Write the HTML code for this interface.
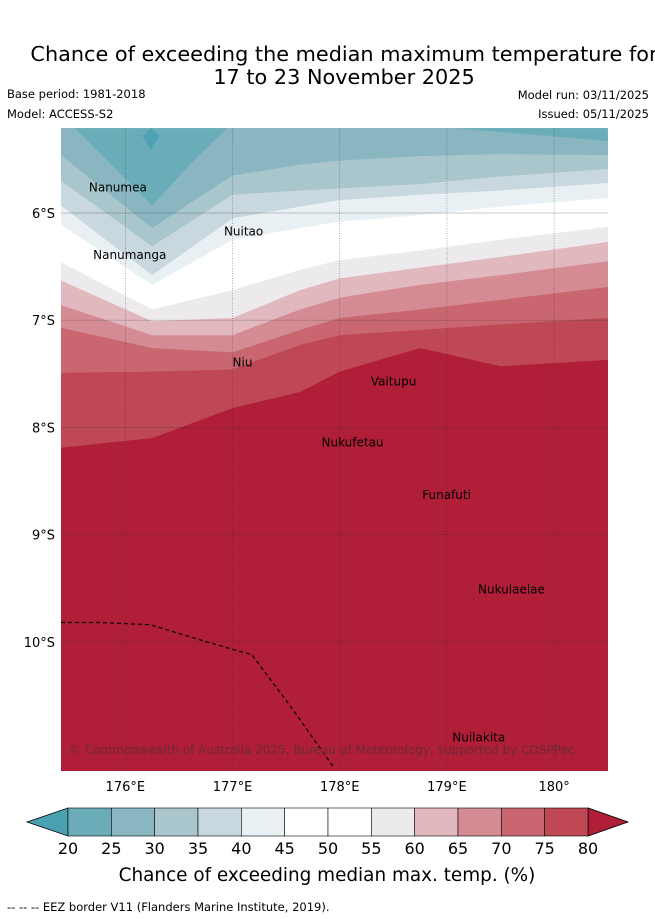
<!DOCTYPE html>
<html><head><meta charset="utf-8">
<style>
body{margin:0;background:#fff;width:655px;height:919px;overflow:hidden;font-family:"DejaVu Sans","Liberation Sans",sans-serif;}
svg{position:absolute;left:0;top:0}
</style></head>
<body>
<svg id="root" width="655" height="919" xmlns="http://www.w3.org/2000/svg">
<text x="344" y="61" font-size="20.8" text-anchor="middle" fill="#000">Chance of exceeding the median maximum temperature for</text>
<text x="344" y="84" font-size="20.8" text-anchor="middle" fill="#000">17 to 23 November 2025</text>
<text x="7" y="98" font-size="11.5">Base period: 1981-2018</text>
<text x="7" y="118" font-size="11.5">Model: ACCESS-S2</text>
<text x="649" y="99" font-size="11.5" text-anchor="end">Model run: 03/11/2025</text>
<text x="649" y="118" font-size="11.5" text-anchor="end">Issued: 05/11/2025</text>
<g id="map"></g>
<g id="cbar"></g>
<text x="327" y="881" font-size="18.4" text-anchor="middle">Chance of exceeding median max. temp. (%)</text>
<text x="7" y="911" font-size="11.5">--  --  -- EEZ border V11 (Flanders Marine Institute, 2019).</text>
</svg>
<script>
// ---- data ----
const lonCols = [175.40,176.25,177.00,177.63,178.00,178.75,179.50,180.50];
const levels = [30,35,40,45,50,55,60,65,70,75,80];
const boundaryLats = [
 [5.46,6.14,5.65,5.55,5.51,5.47,5.45,5.46],
 [5.70,6.31,5.83,5.79,5.77,5.73,5.66,5.59],
 [5.93,6.58,6.05,5.94,5.88,5.83,5.79,5.72],
 [6.11,6.67,6.25,6.14,6.08,6.02,5.94,5.86],
 [6.28,6.79,6.46,6.35,6.25,6.16,6.08,5.99],
 [6.46,6.90,6.72,6.53,6.44,6.35,6.25,6.13],
 [6.63,7.01,6.98,6.72,6.61,6.51,6.41,6.27],
 [6.86,7.14,7.14,6.90,6.79,6.67,6.58,6.45],
 [7.07,7.26,7.30,7.09,6.98,6.90,6.81,6.69],
 [7.49,7.48,7.46,7.23,7.14,7.09,7.04,6.98],
 [8.19,8.10,7.82,7.67,7.48,7.26,7.43,7.37]
];
const bandColors = ["#8ab6c2","#a8c6cc","#c8d8de","#e9f0f3","#ffffff","#ffffff","#eceaec","#e0b8be","#d48b93","#c96670","#be4854","#b01e38"];
const lowPatchLon = [175.53,176.25,176.64,176.95];
const lowPatchLat = [5.21,5.93,5.51,5.21];
const lowPatch2Lon = [179.08,179.68,180.50,180.50];
const lowPatch2Lat = [5.21,5.26,5.33,5.21];
const eezLon = [175.40,175.76,176.23,176.46,176.79,177.18,177.54,177.95];
const eezLat = [9.82,9.82,9.84,9.91,10.01,10.12,10.60,11.18];
const islandNames = ["Nanumea","Nanumanga","Nuitao","Niu","Vaitupu","Nukufetau","Funafuti","Nukulaelae","Nuilakita"];
const islandLon = [175.66,175.70,176.92,177.00,178.29,177.83,178.77,179.29,179.05];
const islandLat = [5.80,6.43,6.21,7.43,7.61,8.18,8.67,9.55,10.93];
const lonTicks = [176,177,178,179,180];
const latTicks = [6,7,8,9,10];
const cbarTicks = [20,25,30,35,40,45,50,55,60,65,70,75,80];
const cbarColors = ["#6aadb9","#8ab6c2","#a8c6cc","#c8d8de","#e9f0f3","#ffffff","#ffffff","#eceaec","#e0b8be","#d48b93","#c96670","#be4854"];

// ---- axes ----
const X0=61,X1=608,Y0=128,Y1=771;
const lon0=175.40,lat0=6,ppd=107.2;
const xS = lon => X0+(lon-lon0)*ppd;
const yS = lat => 213+(lat-lat0)*ppd;
const NS="http://www.w3.org/2000/svg";
function mk(tag,attrs,parent){const e=document.createElementNS(NS,tag);for(const k in attrs)e.setAttribute(k,attrs[k]);parent.appendChild(e);return e;}
const map=document.getElementById('map');
const defs=mk('defs',{},map);
const cp=mk('clipPath',{id:'mc'},defs);
mk('rect',{x:X0,y:Y0,width:X1-X0,height:Y1-Y0},cp);
const g=mk('g',{'clip-path':'url(#mc)'},map);
const bg=mk('rect',{x:X0,y:Y0,width:X1-X0,height:Y1-Y0,fill:"#8ab6c2"},g);


[[lowPatchLon,lowPatchLat],[lowPatch2Lon,lowPatch2Lat]].forEach(([lo,la])=>{
  const pts=lo.map((v,i)=>xS(v)+","+yS(la[i])).join(" ");
  const q=mk('polygon',{points:pts,fill:"#6aadb9"},g);
  
  
});
const dm=mk('polygon',{points:`${xS(176.24)},${Y0} ${xS(176.32)},${Y0+8} ${xS(176.24)},${Y0+22} ${xS(176.16)},${Y0+8}`,fill:"#4fa2b3"},g);


boundaryLats.forEach((row,k)=>{
  let pts=`${xS(lonCols[0])-5},${yS(row[0])} `+lonCols.map((lo,i)=>xS(lo)+","+yS(row[i])).join(" ");
  pts+=` ${X1+5},${yS(row[row.length-1])} ${X1+5},${Y1+5} ${X0-5},${Y1+5}`;
  const q=mk('polygon',{points:pts,fill:bandColors[k+1]},g);
  
  
});
// grid
lonTicks.forEach(t=>{
  const l=mk('line',{x1:xS(t),x2:xS(t),y1:Y0,y2:Y1,stroke:"#333",'stroke-width':0.7,'stroke-dasharray':"1,1.5",opacity:0.55},g);
  
  
});
latTicks.forEach(t=>{
  const l=mk('line',{x1:X0,x2:X1,y1:yS(t),y2:yS(t),stroke:"#333",'stroke-width':0.7,opacity:0.35},g);
  
  
});
const eez=mk('polyline',{points:eezLon.map((v,i)=>xS(v)+","+yS(eezLat[i])).join(" "),fill:"none",stroke:"#000",'stroke-width':1.2,'stroke-dasharray':"4,3"},g);


islandNames.forEach((n,i)=>{
  const t=mk('text',{x:xS(islandLon[i]),y:yS(islandLat[i]),'font-size':12,fill:"#000"},g);
  t.textContent=n;
  
  
});
const cr=mk('text',{x:69,y:754,'font-size':12,fill:"#6a2a36"},g);
cr.textContent="© Commonwealth of Australia 2025, Bureau of Meteorology, supported by COSPPac";


lonTicks.forEach(t=>{
  const e=mk('text',{x:xS(t),y:791,'font-size':13,'text-anchor':'middle'},map);
  e.textContent=t+"°"+(t>=180?"":"E");
  
  
});
latTicks.forEach(t=>{
  const e=mk('text',{x:55,y:yS(t)+5,'font-size':13,'text-anchor':'end'},map);
  e.textContent=t+"°S";
  
  
});
// colorbar
const cb=document.getElementById('cbar');
const CX0=68,CX1=588,CY0=808,CY1=836,CM=822;
const cx=v=>CX0+(v-20)/60*(CX1-CX0);
const lt=mk('polygon',{points:`${CX0},${CY0} ${CX0},${CY1} 27,${CM}`,fill:"#4a9fb0",stroke:"#000",'stroke-width':0.8},cb);


const rt=mk('polygon',{points:`${CX1},${CY0} ${CX1},${CY1} 628,${CM}`,fill:"#b01e38",stroke:"#000",'stroke-width':0.8},cb);


cbarColors.forEach((c,i)=>{
  const r=mk('rect',{x:cx(cbarTicks[i]),y:CY0,width:cx(cbarTicks[i+1])-cx(cbarTicks[i]),height:CY1-CY0,fill:c,stroke:"#000",'stroke-width':0.6},cb);
  
  
});
cbarTicks.forEach(t=>{
  const e=mk('text',{x:cx(t),y:854,'font-size':16,'text-anchor':'middle'},cb);
  e.textContent=t;
  
  
});
</script>
</body></html>
